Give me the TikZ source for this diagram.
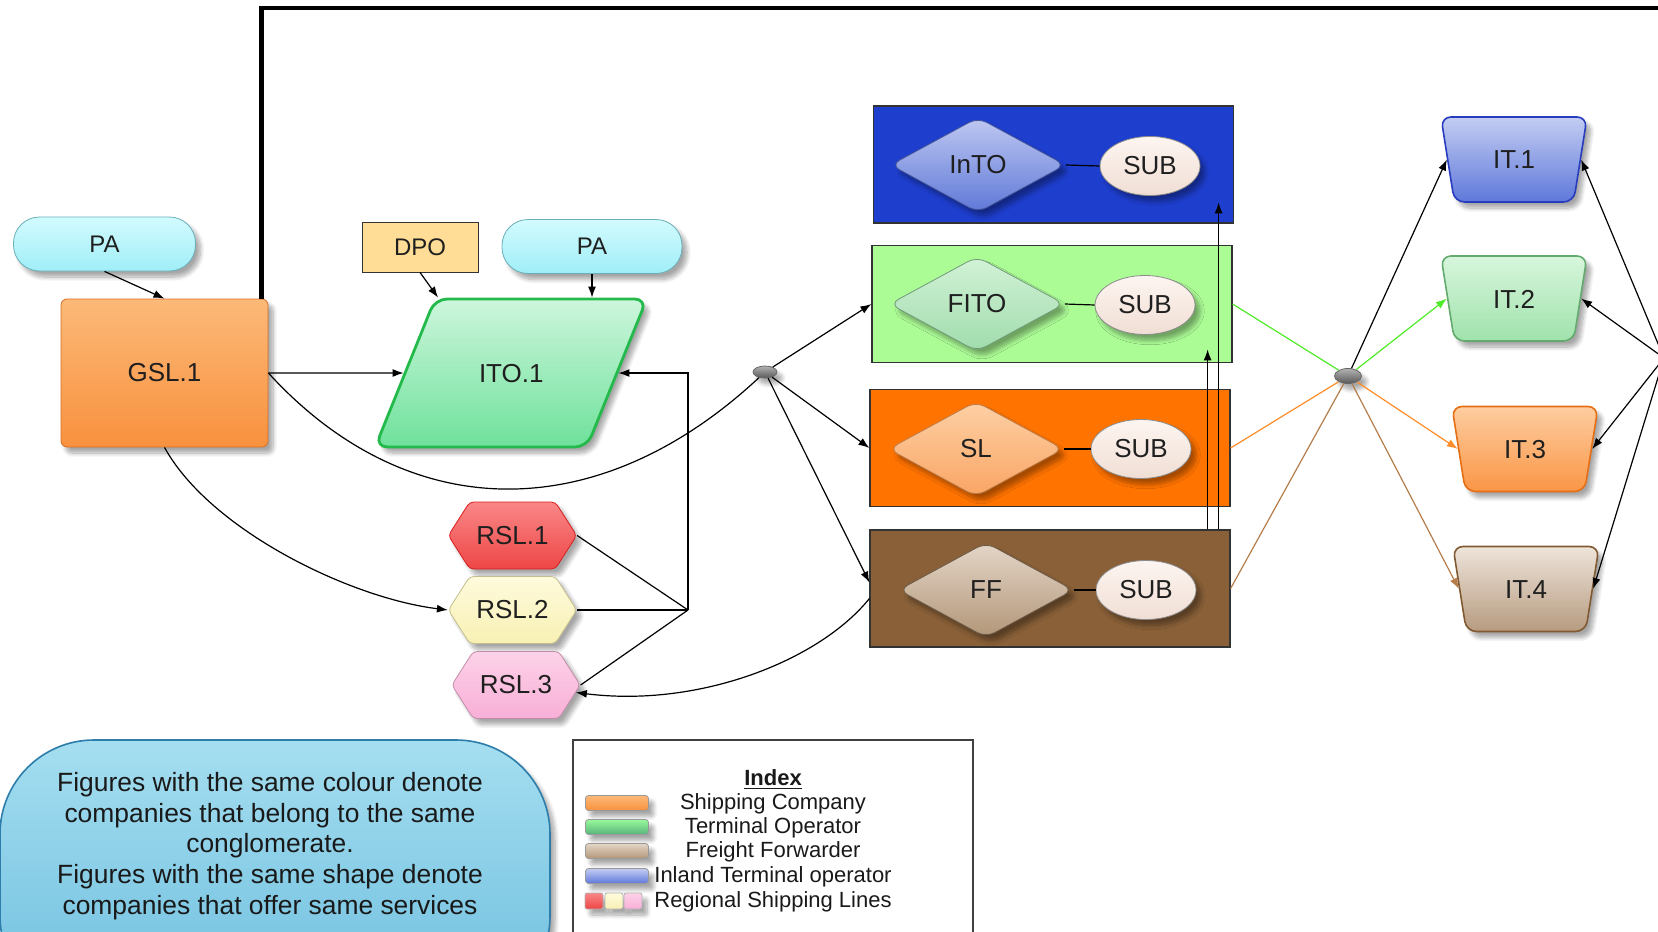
\documentclass[tikz,border=0pt]{standalone}
\usepackage{fontspec}
\setmainfont{Liberation Sans}
\usetikzlibrary{shapes.geometric,shapes.symbols,arrows.meta,shadows.blur}

% palette
\definecolor{paTop}{RGB}{210,251,254}
\definecolor{paBot}{RGB}{160,238,248}
\definecolor{paEdge}{RGB}{105,175,185}
\definecolor{gslTop}{RGB}{252,185,120}
\definecolor{gslBot}{RGB}{248,145,62}
\definecolor{gslEdge}{RGB}{215,110,35}
\definecolor{dpoFill}{RGB}{255,221,150}
\definecolor{itoTop}{RGB}{205,246,220}
\definecolor{itoBot}{RGB}{110,225,155}
\definecolor{itoEdge}{RGB}{35,185,75}
\definecolor{redTop}{RGB}{250,135,135}
\definecolor{redBot}{RGB}{238,70,70}
\definecolor{redEdge}{RGB}{215,30,30}
\definecolor{yelTop}{RGB}{254,251,220}
\definecolor{yelBot}{RGB}{248,240,180}
\definecolor{yelEdge}{RGB}{195,190,140}
\definecolor{pinkTop}{RGB}{253,210,232}
\definecolor{pinkBot}{RGB}{248,175,215}
\definecolor{pinkEdge}{RGB}{195,140,170}
\definecolor{intoBox}{RGB}{30,62,205}
\definecolor{fitoBox}{RGB}{172,252,150}
\definecolor{slBox}{RGB}{255,115,0}
\definecolor{ffBox}{RGB}{137,96,56}
\definecolor{intoTop}{RGB}{190,200,242}
\definecolor{intoBot}{RGB}{95,120,215}
\definecolor{fitoTop}{RGB}{210,242,215}
\definecolor{fitoBot}{RGB}{160,220,172}
\definecolor{slTop}{RGB}{253,208,165}
\definecolor{slBot}{RGB}{250,165,100}
\definecolor{ffTop}{RGB}{228,214,200}
\definecolor{ffBot}{RGB}{178,150,120}
\definecolor{subTop}{RGB}{253,245,241}
\definecolor{subBot}{RGB}{240,222,212}
\definecolor{it1Top}{RGB}{195,205,242}
\definecolor{it1Bot}{RGB}{95,120,218}
\definecolor{it1Edge}{RGB}{40,60,190}
\definecolor{it2Top}{RGB}{215,246,220}
\definecolor{it2Bot}{RGB}{160,226,172}
\definecolor{it2Edge}{RGB}{100,170,110}
\definecolor{it3Top}{RGB}{253,205,160}
\definecolor{it3Bot}{RGB}{250,150,70}
\definecolor{it3Edge}{RGB}{230,110,20}
\definecolor{it4Top}{RGB}{238,228,218}
\definecolor{it4Bot}{RGB}{182,155,128}
\definecolor{it4Edge}{RGB}{130,90,50}
\definecolor{noteTop}{RGB}{165,222,240}
\definecolor{noteBot}{RGB}{110,190,222}
\definecolor{noteEdge}{RGB}{45,125,170}
\definecolor{lineGreen}{RGB}{80,235,40}
\definecolor{lineOrange}{RGB}{255,140,40}
\definecolor{lineBrown}{RGB}{180,125,75}

\tikzset{
  lbl/.style={font=\fontsize{13}{15}\selectfont, text=black!88},
  soft/.style={blur shadow={shadow xshift=2.5pt, shadow yshift=-3pt, shadow opacity=35, shadow blur steps=8}},
  pill/.style={rectangle, rounded corners=13pt, minimum width=91pt, minimum height=27pt,
    draw=paEdge, top color=paTop, bottom color=paBot, soft, font=\fontsize{12}{14}\selectfont, text=black!88},
  company/.style={rectangle, rounded corners=3pt, minimum width=103.5pt, minimum height=74pt,
    draw=gslEdge, top color=gslTop, bottom color=gslBot, soft, lbl},
  authority/.style={rectangle, minimum width=58pt, minimum height=25pt, draw=black!80,
    fill=dpoFill, font=\fontsize{12}{14}\selectfont, text=black!88},
  % parallelogram: body fixed by the text box, slanted ends from the angles
  terminal/.style={trapezium, trapezium left angle=68, trapezium right angle=112,
    text width=32pt, align=center, text height=9.5pt, text depth=0pt,
    inner xsep=22pt, inner ysep=32.25pt, rounded corners=6pt,
    draw=itoEdge, line width=1.4pt, top color=itoTop, bottom color=itoBot, soft, lbl},
  regional/.style={signal, signal to=west and east, signal pointer angle=115,
    minimum width=63.5pt, minimum height=33.5pt, rounded corners=2pt, soft, lbl},
  group/.style={rectangle, minimum width=180pt, minimum height=58.5pt, draw=black!80, line width=0.6pt},
  firm/.style={diamond, aspect=1.84, inner sep=1pt, minimum width=87.5pt, minimum height=47.5pt,
    rounded corners=5pt, soft, lbl},
  sub/.style={ellipse, inner sep=1pt, minimum width=50pt, minimum height=29.5pt,
    draw=black!45, top color=subTop, bottom color=subBot, soft, lbl},
  % inverted trapezium: wide side on top
  inland/.style={trapezium, trapezium left angle=99, trapezium right angle=99,
    text width=24pt, align=center, text height=9.5pt, text depth=0pt,
    inner xsep=17.8pt, inner ysep=16.5pt, rounded corners=5pt,
    line width=0.8pt, soft, lbl},
  hub/.style={ellipse, inner sep=0pt, minimum width=12pt, minimum height=6pt,
    draw=black!60, top color=black!30, bottom color=black!65, soft},
  swatch/.style={rectangle, rounded corners=1.5pt, minimum width=31.5pt, minimum height=7.5pt,
    inner sep=0pt, draw=black!40, soft},
  chip/.style={rectangle, rounded corners=1pt, minimum width=9pt, minimum height=8pt,
    inner sep=0pt, draw=black!30, soft},
  legendtext/.style={font=\fontsize{11}{12}\selectfont, text=black!90},
  arr/.style={-{Latex[length=5.5pt,width=4pt]}, line width=0.6pt},
  wire/.style={line width=0.6pt},
}

\begin{document}
\begin{tikzpicture}[x=0.5pt,y=-0.5pt]
\useasboundingbox (0,0) rectangle (1658,931);
\clip (0,0) rectangle (1658,931);

% ---- group boxes with their members
\node[group, fill=intoBox] (intobox) at (1053.5,164.5) {};
\node[group, fill=fitoBox] (fitobox) at (1052,304) {};
\node[group, fill=slBox]   (slbox)   at (1050,448) {};
\node[group, fill=ffBox]   (ffbox)   at (1050,588.5) {};

\node[firm, draw=intoBot!70!black, top color=intoTop, bottom color=intoBot] (into) at (978,165) {InTO};
\node[sub] (intosub) at (1150,166) {SUB};
\node[firm, draw=fitoBot!70!black, top color=fitoTop, bottom color=fitoBot] (fito) at (977,304) {FITO};
\node[sub] (fitosub) at (1145,305) {SUB};
\node[firm, draw=slBot!75!black, top color=slTop, bottom color=slBot] (sl) at (976,449) {SL};
\node[sub] (slsub) at (1141,449) {SUB};
\node[firm, draw=ffBot!60!black, top color=ffTop, bottom color=ffBot] (ff) at (986,590) {FF};
\node[sub] (ffsub) at (1146,590) {SUB};

\draw[wire] (into.east) -- (intosub.west);
\draw[wire] (fito.east) -- (fitosub.west);
\draw[wire] (sl.east) -- (slsub.west);
\draw[wire] (ff.east) -- (ffsub.west);

% ---- left side
\node[pill] (pa1) at (104.5,244) {PA};
\node[company] (gsl) at (164.5,373) {GSL.1};
\node[authority] (dpo) at (420,247) {DPO};
\node[pill, minimum width=90pt] (pa2) at (592,246.5) {PA};
\node[terminal] (ito) at (511,373) {ITO.1};

\node[regional, draw=redEdge, top color=redTop, bottom color=redBot] (rsl1) at (512.5,535.5) {RSL.1};
\node[regional, draw=yelEdge, top color=yelTop, bottom color=yelBot] (rsl2) at (512.5,610) {RSL.2};
\node[regional, draw=pinkEdge, top color=pinkTop, bottom color=pinkBot] (rsl3) at (516,685) {RSL.3};

\node[hub] (hub1) at (765,372) {};
\node[hub, minimum width=13.5pt, minimum height=7.5pt] (hub2) at (1348,376) {};

% ---- inland terminals
\node[inland, draw=it1Edge, top color=it1Top, bottom color=it1Bot] (it1) at (1514,159.5) {IT.1};
\node[inland, draw=it2Edge, top color=it2Top, bottom color=it2Bot] (it2) at (1514,298.5) {IT.2};
\node[inland, draw=it3Edge, top color=it3Top, bottom color=it3Bot] (it3) at (1525,449) {IT.3};
\node[inland, draw=it4Edge, top color=it4Top, bottom color=it4Bot] (it4) at (1526,589) {IT.4};

% ---- free ends
\coordinate (topR) at (1700,8);
\coordinate (J) at (688,610);
\coordinate (R) at (1664,358);

% ---- connectors
\draw[line width=2.2pt] ([xshift=-3.5pt]gsl.north east) -- ([xshift=-3.5pt]gsl.north east |- topR) -- (topR);
\draw[arr] (pa1.south) -- (gsl.north);
\draw[arr] (dpo.south) -- ([xshift=2pt]ito.top left corner);
\draw[arr] (pa2.south) -- (pa2.south |- ito.north);
\draw[arr] (gsl.east) -- (ito.west);
\draw[wire] (gsl.east) .. controls (410,528) and (600,526) .. (hub1);
\draw[arr] (gsl.south) .. controls (210,530) and (350,598) .. (rsl2.west);

\draw[wire] (rsl1.east) -- (J);
\draw[wire] (rsl2.east) -- (J);
\draw[wire] (rsl3.east) -- (J);
\draw[arr] (J) -- (J |- ito.east) -- (ito.east);

\draw[arr] (hub1) -- (fitobox.west);
\draw[arr] (hub1) -- (slbox.west);
\draw[arr] (hub1) -- ([yshift=3pt]ffbox.west);
\draw[arr] ([yshift=-5pt]ffbox.west) .. controls (820,660) and (700,708) .. (rsl3);

\draw[arr] ([xshift=-11.5pt]ffbox.north east) -- ++(0,-180);
\draw[arr] ([xshift=-6pt]ffbox.north east) -- ++(0,-327);

\draw[lineGreen, line width=0.6pt] (fitobox.east) -- (hub2);
\draw[lineOrange, line width=0.6pt] (slbox.east) -- (hub2);
\draw[lineBrown, line width=0.6pt] (ffbox.east) -- (hub2);
\draw[arr] (hub2) -- (it1.west);
\draw[arr, lineGreen] (hub2) -- (it2.west);
\draw[arr, lineOrange] (hub2) -- (it3.west);
\draw[arr, lineBrown] (hub2) -- (it4.west);

\draw[arr] (R) -- (it1.east);
\draw[arr] (R) -- (it2.east);
\draw[arr] (R) -- (it3.east);
\draw[arr] (R) -- (it4.east);

% ---- explanatory note
\path[soft, draw=noteEdge, line width=0.8pt, top color=noteTop, bottom color=noteBot, rounded corners=47pt]
  (0,740) rectangle (550,1010);
\node[align=center, font=\fontsize{13.2}{15.3}\selectfont, text=black!90] (note) at (270,846)
  {Figures with the same colour denote\\companies that belong to the same\\conglomerate.\\Figures with the same shape denote\\companies that offer same services};

% ---- index
\draw[black!75, line width=0.7pt] (573,740) rectangle (973,1010);
\node[legendtext, font=\fontsize{11}{12}\bfseries] (idx) at (773,780) {\underline{Index}};
\node[legendtext] (lgA) at (773,804) {Shipping Company};
\node[legendtext] (lgB) at (773,828) {Terminal Operator};
\node[legendtext] (lgC) at (773,852) {Freight Forwarder};
\node[legendtext] (lgD) at (773,877) {Inland Terminal operator};
\node[legendtext] (lgE) at (773,902) {Regional Shipping Lines};
\node[swatch, top color=gslTop, bottom color=gslBot] (swA) at (617,803) {};
\node[swatch, top color=it2Top!70!green, bottom color=itoBot!80!black] (swB) at (617,827) {};
\node[swatch, top color=ffTop, bottom color=ffBot] (swC) at (617,851) {};
\node[swatch, top color=it1Top, bottom color=it1Bot] (swD) at (617,876) {};
\node[chip, top color=redTop, bottom color=redBot] (chA) at (594,901) {};
\node[chip, top color=yelTop, bottom color=yelBot] (chB) at (614,901) {};
\node[chip, top color=pinkTop, bottom color=pinkBot] (chC) at (633,901) {};
\end{tikzpicture}
\end{document}
